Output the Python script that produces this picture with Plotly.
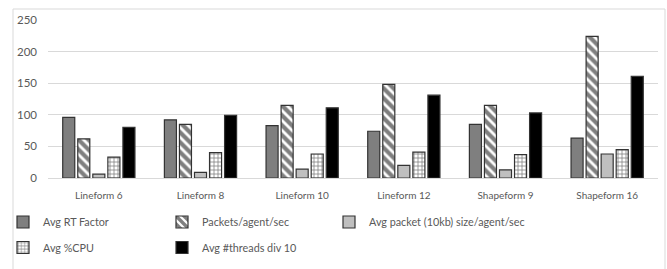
import plotly.graph_objects as go

categories = ["Lineform 6", "Lineform 8", "Lineform 10", "Lineform 12", "Shapeform 9", "Shapeform 16"]
avg_rt_factor = [96, 92, 83, 74, 85, 63]
packets_agent_sec = [62, 85, 115, 148, 115, 224]
avg_packet_size = [6, 9, 14, 20, 13, 38]
avg_cpu = [33, 40, 38, 41, 37, 45]
avg_threads_div10 = [80, 99, 111, 131, 103, 161]
y_ticks = [0, 50, 100, 150, 200, 250]

FONT = "Lato, Liberation Sans, sans-serif"
TXT = "#595959"
OUT = "#333333"

fig = go.Figure()
fig.add_bar(name="Avg RT Factor", x=categories, y=avg_rt_factor, legend="legend",
            marker=dict(color="#7f7f7f", line=dict(color=OUT, width=1.2)))
fig.add_bar(name="Packets/agent/sec", x=categories, y=packets_agent_sec, legend="legend",
            marker=dict(color="white", line=dict(color=OUT, width=1.2),
                        pattern=dict(shape="\\", fgcolor="black", bgcolor="white",
                                     size=7, solidity=0.6, fillmode="overlay")))
fig.add_bar(name="Avg packet (10kb) size/agent/sec", x=categories, y=avg_packet_size, legend="legend3",
            marker=dict(color="#bfbfbf", line=dict(color=OUT, width=1.2)))
fig.add_bar(name="Avg %CPU", x=categories, y=avg_cpu, legend="legend2",
            marker=dict(color="white", line=dict(color=OUT, width=1.2),
                        pattern=dict(shape="+", fgcolor="black", bgcolor="white",
                                     size=4, solidity=0.35, fillmode="overlay")))
fig.add_bar(name="Avg #threads div 10", x=categories, y=avg_threads_div10, legend="legend2",
            marker=dict(color="black", line=dict(color=OUT, width=1.2)))

W, H = 667, 269
l, r, t, b = 48, 9, 20, 91
pw, ph = W - l - r, H - t - b

# chart-area border (left, top, right)
bx0 = (13 - l) / pw
bx1 = (665 - l) / pw
by1 = 1 + (t - 9) / ph
by0 = -(H + 5 - (H - b)) / ph
fig.add_shape(type="rect", xref="paper", yref="paper", x0=bx0, x1=bx1, y0=by0, y1=by1,
              line=dict(color="#d9d9d9", width=1), fillcolor="rgba(0,0,0,0)", layer="below")

leg_common = dict(orientation="h", xref="container", yref="container",
                  xanchor="left", yanchor="middle", itemwidth=30,
                  font=dict(family=FONT, size=10.8, color=TXT),
                  traceorder="normal", bgcolor="rgba(0,0,0,0)")

fig.update_layout(
    width=W, height=H,
    margin=dict(l=l, r=r, t=t, b=b, autoexpand=False),
    paper_bgcolor="white", plot_bgcolor="white",
    barmode="group", bargap=0.26, bargroupgap=0.2,
    font=dict(family=FONT, size=11, color=TXT),
    showlegend=True,
    legend=dict(leg_common, x=3 / W, y=1 - 222 / H, entrywidth=114, entrywidthmode="pixels"),
    legend2=dict(leg_common, x=3 / W, y=1 - 247.5 / H, entrywidth=114, entrywidthmode="pixels"),
    legend3=dict(leg_common, x=329 / W, y=1 - 222 / H),
    xaxis=dict(showgrid=False, showline=True, linecolor="#d9d9d9", ticks="",
               ticklabelstandoff=8,
               tickfont=dict(family=FONT, size=10, color=TXT)),
    yaxis=dict(range=[0, 250], tickvals=y_ticks, showgrid=True, gridcolor="#d9d9d9",
               zeroline=False, showline=False, ticks="", ticklabelstandoff=10,
               tickfont=dict(family=FONT, size=11.5, color=TXT)),
)

fig.write_html("out.html", post_script="document.body.style.margin='0';",
               config={"displayModeBar": False})
